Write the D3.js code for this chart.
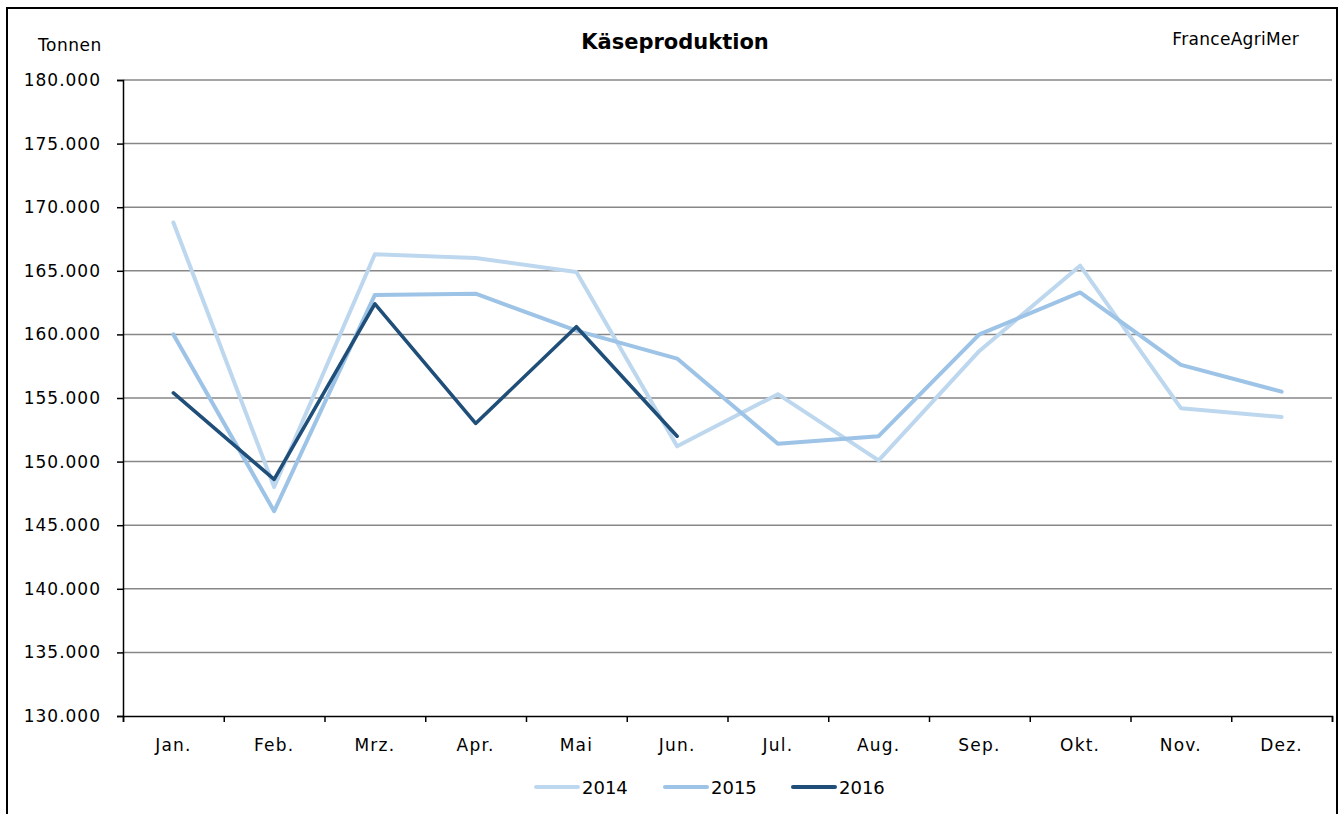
<!DOCTYPE html>
<html lang="de">
<head>
<meta charset="UTF-8">
<title>Käseproduktion</title>
<script src="https://d3js.org/d3.v7.min.js"></script>
<style>
  body { margin: 0; background: #fff; }
  svg { display: block; font-family: "DejaVu Sans", sans-serif; }
</style>
</head>
<body>
<div id="chart"></div>
<script>
// Monthly cheese production (tonnes), FranceAgriMer
const months = ["Jan.", "Feb.", "Mrz.", "Apr.", "Mai", "Jun.", "Jul.", "Aug.", "Sep.", "Okt.", "Nov.", "Dez."];
const years = ["2014", "2015", "2016"];
const values2014 = [168800, 148000, 166300, 166000, 164900, 151200, 155300, 150100, 158700, 165400, 154200, 153500];
const values2015 = [160000, 146100, 163100, 163200, 160300, 158100, 151400, 152000, 160000, 163300, 157600, 155500];
const values2016 = [155400, 148600, 162400, 153000, 160600, 152000];
const yTicks = [130000, 135000, 140000, 145000, 150000, 155000, 160000, 165000, 170000, 175000, 180000];

const width = 1344, height = 814;
const margin = {top: 80, right: 12, bottom: 98, left: 123};

const svg = d3.select("#chart").append("svg")
  .attr("width", width)
  .attr("height", height);

// outer frame
svg.append("rect")
  .attr("x", 7).attr("y", 8)
  .attr("width", 1330).attr("height", 830)
  .attr("fill", "none")
  .attr("stroke", "#000")
  .attr("stroke-width", 2);

const x = d3.scaleBand()
  .domain(months)
  .range([margin.left, width - margin.right])
  .padding(0);

const xEdge = d3.scaleLinear()
  .domain([0, months.length])
  .range([margin.left, width - margin.right]);

const y = d3.scaleLinear()
  .domain([130000, 180000])
  .range([height - margin.bottom, margin.top]);

const de = d3.formatLocale({decimal: ",", thousands: ".", grouping: [3], currency: ["", " €"]});
const fmt = de.format(",");

// gridlines
svg.append("g")
  .selectAll("line")
  .data(yTicks.slice(1))
  .enter().append("line")
  .attr("x1", margin.left)
  .attr("x2", width - margin.right)
  .attr("y1", d => y(d))
  .attr("y2", d => y(d))
  .attr("stroke", "#878787")
  .attr("stroke-width", 1.5);

// y axis
const yAxis = svg.append("g")
  .attr("transform", `translate(${margin.left},0)`)
  .call(d3.axisLeft(y).tickValues(yTicks).tickFormat(fmt).tickSize(6).tickPadding(16));
yAxis.select(".domain").attr("stroke", "#000").attr("stroke-width", 1.5);
yAxis.selectAll(".tick line").attr("stroke", "#000").attr("stroke-width", 1.5);
yAxis.selectAll("text")
  .attr("font-family", "DejaVu Sans")
  .attr("font-size", 17)
  .attr("letter-spacing", 1)
  .attr("fill", "#000");

// x axis: tick marks at category boundaries
const xTicks = svg.append("g")
  .attr("transform", `translate(0,${height - margin.bottom})`)
  .call(d3.axisBottom(xEdge).tickValues(d3.range(0, months.length + 1)).tickFormat("").tickSize(6));
xTicks.select(".domain").attr("stroke", "#000").attr("stroke-width", 1.5);
xTicks.selectAll(".tick line").attr("stroke", "#000").attr("stroke-width", 1.5);

// x labels centred in each band
const xLabels = svg.append("g")
  .attr("transform", `translate(0,${height - margin.bottom})`)
  .call(d3.axisBottom(x).tickSize(0).tickPadding(23));
xLabels.select(".domain").remove();
xLabels.selectAll("text")
  .attr("font-family", "DejaVu Sans")
  .attr("font-size", 17)
  .attr("letter-spacing", 1.2)
  .attr("fill", "#000");

// lines
const series = [
  {name: years[0], values: values2014, color: "#bdd7ee", width: 4},
  {name: years[1], values: values2015, color: "#9dc3e6", width: 4},
  {name: years[2], values: values2016, color: "#1f4e79", width: 3.6}
];

const line = d3.line()
  .x((d, i) => x(months[i]) + x.bandwidth() / 2)
  .y(d => y(d));

svg.append("g")
  .selectAll("path")
  .data(series)
  .enter().append("path")
  .attr("d", d => line(d.values))
  .attr("fill", "none")
  .attr("stroke", d => d.color)
  .attr("stroke-width", d => d.width)
  .attr("stroke-linejoin", "round")
  .attr("stroke-linecap", "round");

// titles
svg.append("text")
  .attr("x", 675).attr("y", 49)
  .attr("text-anchor", "middle")
  .attr("font-family", "DejaVu Sans")
  .attr("font-weight", "bold")
  .attr("font-size", 21)
  .text("Käseproduktion");

svg.append("text")
  .attr("x", 38).attr("y", 51)
  .attr("font-size", 17)
  .attr("letter-spacing", 0.5)
  .text("Tonnen");

svg.append("text")
  .attr("x", 1299).attr("y", 45)
  .attr("text-anchor", "end")
  .attr("font-size", 17)
  .attr("letter-spacing", 0.3)
  .text("FranceAgriMer");

// legend
const legendX = [536, 665, 793];
const legend = svg.append("g")
  .selectAll("g")
  .data(series)
  .enter().append("g")
  .attr("transform", (d, i) => `translate(${legendX[i]},787)`);

legend.append("line")
  .attr("x1", 0).attr("x2", 42)
  .attr("stroke", d => d.color)
  .attr("stroke-width", 4)
  .attr("stroke-linecap", "round");

legend.append("text")
  .attr("x", 46).attr("y", 7)
  .attr("font-size", 18)
  .text(d => d.name);
</script>
</body>
</html>
